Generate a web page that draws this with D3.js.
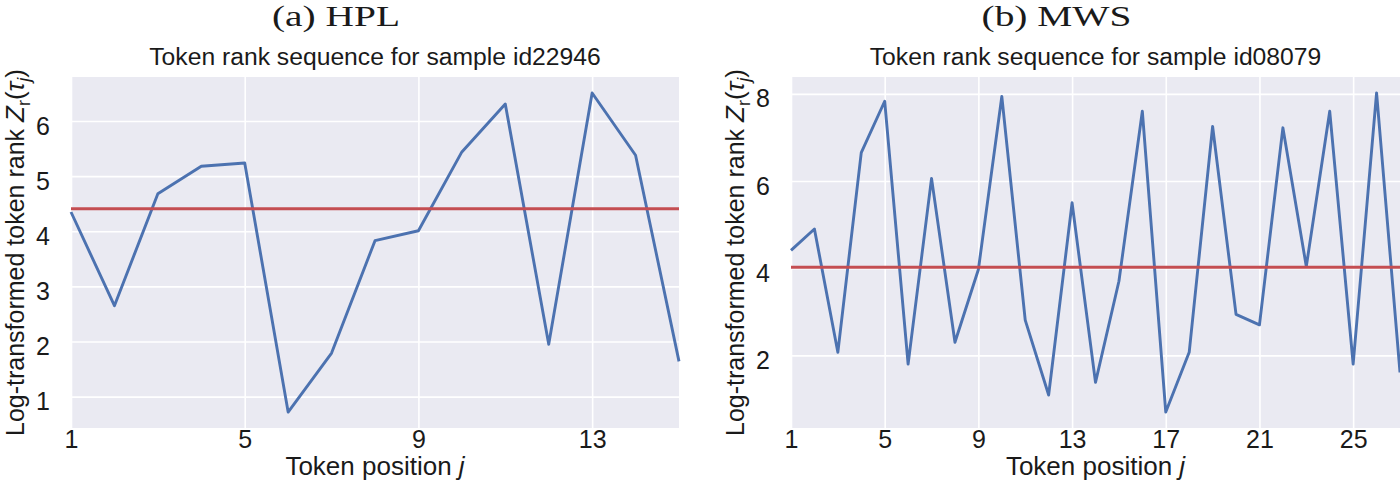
<!DOCTYPE html>
<html>
<head>
<meta charset="utf-8">
<script src="https://cdn.jsdelivr.net/npm/d3@7"></script>
<style>
  body { margin: 0; background: #fff; }
  svg { display: block; }
  text { font-family: "Liberation Sans", Arial, sans-serif; fill: #1a1a1a; }
</style>
</head>
<body>
<svg id="chart" width="1400" height="494"></svg>
<script>
// token rank sequences (log-transformed ranks)
var hplRanks = [4.35, 2.65, 4.68, 5.18, 5.24, 0.72, 1.79, 3.83, 4.01, 5.44, 6.31, 1.95, 6.51, 5.38, 1.64];
var hplMean = 4.41;
var hplXTicks = [1, 5, 9, 13];
var hplYTicks = [1, 2, 3, 4, 5, 6];

var mwsRanks = [4.41, 4.90, 2.07, 6.65, 7.83, 1.80, 6.06, 2.30, 3.97, 7.94, 2.81, 1.09, 5.50, 1.38,
	3.70, 7.60, 0.70, 2.07, 7.25, 2.94, 2.70, 7.22, 4.04, 7.60, 1.80, 8.02, 1.61];
var mwsMean = 4.02;
var mwsXTicks = [1, 5, 9, 13, 17, 21, 25];
var mwsYTicks = [2, 4, 6, 8];

var panels = [
	{ caption: "(a) HPL", capWidth: 128, title: "Token rank sequence for sample id22946",
		ranks: hplRanks, mean: hplMean, xticks: hplXTicks, yticks: hplYTicks, left: 71, right: 679 },
	{ caption: "(b) MWS", capWidth: 150, title: "Token rank sequence for sample id08079",
		ranks: mwsRanks, mean: mwsMean, xticks: mwsXTicks, yticks: mwsYTicks, left: 791, right: 1400 }
];

var plotTop = 77, plotBottom = 428;
var svg = d3.select("#chart");

panels.forEach(function(p) {
	var w = p.right - p.left, h = plotBottom - plotTop;
	var pts = p.ranks.map(function(v, i) { return { pos: i + 1, rank: v }; });

	var x = d3.scaleLinear().domain([1, pts.length]).range([0, w]);
	var ext = d3.extent(p.ranks), pad = (ext[1] - ext[0]) * 0.05;
	var y = d3.scaleLinear().domain([ext[0] - pad, ext[1] + pad]).range([h, 0]);

	var g = svg.append("g").attr("transform", "translate(" + p.left + "," + plotTop + ")");

	g.append("rect").attr("width", w).attr("height", h).attr("fill", "#EAEAF2");

	var ya = g.append("g")
		.call(d3.axisLeft(y).tickValues(p.yticks).tickSize(-w).tickPadding(21).tickFormat(d3.format("d")));
	var xa = g.append("g").attr("transform", "translate(0," + h + ")")
		.call(d3.axisBottom(x).tickValues(p.xticks).tickSize(-h).tickPadding(3).tickFormat(d3.format("d")));

	[ya, xa].forEach(function(a) {
		a.select(".domain").remove();
		a.selectAll(".tick line").attr("stroke", "#fff").attr("stroke-width", 1.6);
		a.selectAll(".tick text").attr("fill", "#1a1a1a").style("font-size", "25px")
			.style("font-family", "'Liberation Sans', Arial, sans-serif");
	});
	ya.selectAll(".tick text").attr("dy", "13px");
	xa.selectAll(".tick text").attr("dy", "17px");

	g.append("path").datum(pts)
		.attr("fill", "none").attr("stroke", "#4C72B0").attr("stroke-width", 2.9)
		.attr("stroke-linejoin", "round")
		.attr("d", d3.line().x(function(d) { return x(d.pos); }).y(function(d) { return y(d.rank); }));

	g.append("line")
		.attr("x1", 0).attr("x2", w)
		.attr("y1", y(p.mean)).attr("y2", y(p.mean))
		.attr("stroke", "#C44E52").attr("stroke-width", 3);

	// subplot title
	g.append("text").attr("x", w / 2).attr("y", 65 - plotTop)
		.attr("text-anchor", "middle").style("font-size", "24.7px").text(p.title);

	// figure caption, LaTeX style
	svg.append("text").attr("x", p.left + w / 2 - 39 - p.capWidth / 2).attr("y", 26)
		.attr("textLength", p.capWidth).attr("lengthAdjust", "spacingAndGlyphs")
		.style("font-family", "'Liberation Serif', 'DejaVu Serif', serif").style("font-size", "29px")
		.text(p.caption);

	// x label
	var xl = g.append("text").attr("x", w / 2).attr("y", 475 - plotTop)
		.attr("text-anchor", "middle").style("font-size", "26px");
	xl.append("tspan").text("Token position ");
	xl.append("tspan").style("font-style", "italic").text("j");

	// y label
	var yl = g.append("text")
		.attr("transform", "translate(-47," + (h / 2) + ") rotate(-90)")
		.attr("text-anchor", "middle").style("font-size", "25px");
	yl.append("tspan").text("Log-transformed token rank ");
	yl.append("tspan").style("font-style", "italic").style("font-size", "26px").text("Z");
	yl.append("tspan").attr("dy", 6).style("font-size", "18px").text("r");
	yl.append("tspan").attr("dy", -6).style("font-size", "26px").text("(");
	yl.append("tspan").style("font-style", "italic").style("font-size", "26px").text("τ");
	yl.append("tspan").attr("dy", 6).style("font-size", "18px").style("font-style", "italic").text("j");
	yl.append("tspan").attr("dy", -6).style("font-size", "26px").text(")");
});
</script>
</body>
</html>
